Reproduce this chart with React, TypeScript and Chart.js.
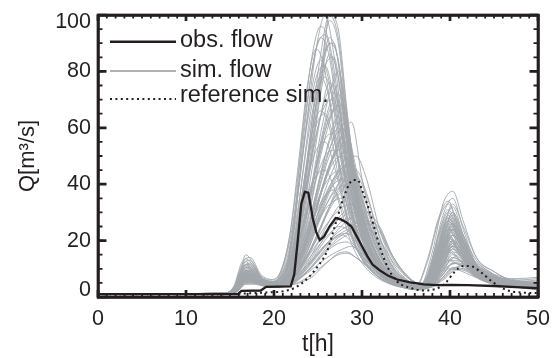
import { useEffect, useRef, useState } from "react";
import { Chart, registerables } from "chart.js";

Chart.register(...registerables);

// ---------- axes ----------
const xMin = 0;
const xMax = 50;
const yMin = 0;
const yMax = 100;
const xTickValues = [0, 10, 20, 30, 40, 50];
const xTickLabels = ["0", "10", "20", "30", "40", "50"];
const yTickValues = [0, 20, 40, 60, 80, 100];
const yTickLabels = ["0", "20", "40", "60", "80", "100"];
const xMinorStep = 1;
const yMinorStep = 5;
const xTitle = "t[h]";
const yTitle = "Q[m³/s]";
const legendLabels = ["obs. flow", "sim. flow", "reference sim."];

// ---------- observed flow ----------
const obsT = [0, 15.9, 16.3, 18.5, 19.1, 21.9, 22.3, 22.7, 23.1, 23.5, 23.9, 24.4, 24.8, 25.2, 25.7, 26.3, 27.0, 27.6, 28.2, 28.8, 29.4, 30, 30.6, 31.2, 32, 33, 34, 35.5, 37, 38.5, 40, 42, 45, 47.5, 50];
const obsQ = [1, 1, 2.2, 2.3, 3.6, 3.8, 8, 20, 33, 37.3, 37, 28, 23, 20.2, 21.5, 25, 28, 27.5, 26.5, 25, 21.5, 18, 14.5, 11.5, 9.5, 7.5, 6.2, 5.2, 4.5, 4.2, 4.3, 4.2, 3.9, 3.5, 3.1];

// ---------- reference simulation ----------
const refT = [0, 14, 17, 19, 21, 22.5, 24, 25, 26, 27, 28, 29, 29.5, 30, 31, 32, 33, 34, 35.5, 37, 38.5, 39.5, 40.5, 41.5, 42.5, 43.5, 45, 46.5, 48, 50];
const refQ = [1, 1, 1.3, 1.6, 2, 3.5, 7.2, 11, 16, 26, 36, 41.5, 41.5, 38, 29, 18, 10, 5.5, 3.2, 2.3, 3, 5, 8.8, 11, 10.8, 8.8, 5, 2.4, 1.6, 1.4];

// ---------- ensemble of simulated flows, time grid A ----------
const simTA = [0, 14.5, 15.8, 16.8, 17.8, 19, 20.3, 21.3, 22.3, 23.3, 24.3, 25.3, 26.3, 27.3, 28.3, 29.3, 30.5, 32, 33.5, 35, 36.5, 38, 39.2, 40.3, 41.5, 43, 45, 47.5, 50];
const simQA = [
  [1, 1.2, 3.5, 11.5, 8.5, 5, 4.5, 8.5, 25, 55, 80, 92, 85, 62, 40, 25, 15, 8.5, 5.5, 4, 3, 6.5, 18, 26, 18, 8.5, 5, 3.5, 3],
  [1.1, 1.3, 2.5, 7.5, 6.5, 4.5, 4, 7.5, 20, 45, 68, 78, 70, 50, 32, 20, 12, 7.5, 5, 3.5, 2.7, 5.5, 14, 22, 16, 8.5, 5, 3.7, 3.3],
  [0.9, 1.1, 4.5, 13.5, 10.5, 5.5, 5, 9.5, 28, 60, 85, 96, 90, 70, 45, 28, 16, 9.5, 6, 4, 3, 12, 22, 30, 22, 13, 8, 4.5, 3.5],
  [1, 1.2, 2, 5.5, 5.5, 4, 3.5, 6.5, 16, 38, 58, 66, 60, 43, 28, 18, 11, 7, 4.5, 3.3, 2.5, 4.5, 11, 18, 14, 7.5, 4.5, 3.5, 3],
  [1.1, 1.3, 3.7, 12.5, 9.5, 5.5, 5, 9, 26, 52, 74, 84, 76, 55, 36, 22, 13, 8, 5.1, 3.7, 2.7, 6, 16, 24, 17, 9, 5.1, 3.5, 2.5],
  [1, 1.2, 3, 9.5, 7.5, 4.5, 4, 6.5, 16, 36, 62, 86, 100, 92, 65, 40, 22, 11.5, 6.5, 4.3, 3.3, 8.5, 24, 32, 22, 10.5, 6, 4.5, 4],
  [0.9, 1.1, 3.5, 10.5, 8.5, 5, 4.5, 6.5, 15, 33, 58, 80, 98, 90, 62, 38, 21, 11.5, 6.5, 4, 3, 14, 29, 35, 24, 11.5, 6, 4.3, 3.7],
  [1.1, 1.3, 2.5, 6.5, 6.5, 4.5, 4, 6, 13, 28, 50, 72, 86, 78, 55, 34, 19, 10.5, 6, 4, 3.1, 6.5, 17, 24, 18, 9.5, 5.5, 4.1, 3.5],
  [0.9, 1.1, 4, 15, 11, 5.5, 5, 7.5, 17, 35, 58, 78, 92, 84, 60, 37, 20, 10.5, 6, 4, 3.5, 16, 33, 37.5, 27, 14, 9, 5, 3.8],
  [1, 1.2, 2.3, 6.5, 6, 4.3, 3.7, 5.5, 12, 26, 45, 64, 76, 68, 48, 30, 17, 9.5, 5.5, 3.7, 2.8, 5.5, 15, 22, 17, 9.5, 5.5, 4, 3.5],
  [1.1, 1.3, 3.3, 8.5, 7.5, 5, 4.5, 6.5, 14, 30, 52, 74, 100, 95, 66, 40, 22, 11.5, 6.5, 4.3, 3.2, 7.5, 21, 29, 21, 10.5, 6, 4.5, 3.9],
  [1, 1.2, 2.8, 8, 7, 4.7, 4.2, 6.3, 14, 31, 54, 76, 90, 84, 58, 36, 20, 10.5, 6, 4, 3, 7, 19, 27, 20, 10.5, 6, 4.7, 5.5],
  [1, 1.2, 2.5, 7.5, 6.5, 4.5, 4, 5.5, 11, 22, 38, 55, 68, 75, 60, 40, 24, 12.5, 7, 4.5, 3.3, 5.5, 14, 20, 16, 9.5, 6, 4.5, 4],
  [1.1, 1.3, 3.5, 9.5, 8, 5, 4.5, 6, 12, 24, 40, 58, 72, 80, 64, 42, 25, 13.5, 7.5, 4.7, 3.5, 7.5, 19, 26, 20, 10.5, 6.5, 4.7, 4.1],
  [0.9, 1.1, 2, 5.5, 5.5, 4, 3.5, 5, 9, 18, 30, 44, 55, 62, 50, 34, 20, 10.5, 6, 4, 3, 4.5, 11, 17, 14, 8.5, 5.5, 4.1, 3.7],
  [1, 1.2, 3, 8.5, 7.5, 4.7, 4.3, 5.5, 10, 20, 34, 50, 62, 70, 56, 38, 22, 11.5, 6.5, 4.3, 3.1, 6.5, 17, 25, 19, 10.5, 6, 4.5, 3.9],
  [1.1, 1.3, 2.5, 6.5, 6, 4.3, 3.9, 5, 9, 17, 28, 40, 50, 56, 46, 31, 18, 10, 5.8, 3.9, 2.9, 5.5, 13, 19, 15, 8.5, 5.5, 4.2, 3.7],
  [1, 1.2, 4, 11.5, 9, 5.5, 5, 6.5, 12, 23, 38, 54, 66, 72, 58, 38, 22, 11.5, 6.5, 4.3, 3.1, 8.5, 23, 33, 25, 14, 9, 5.2, 4.1],
  [1.1, 1.3, 2.7, 7.5, 6.5, 4.5, 4.1, 5.3, 9.5, 18, 29, 41, 52, 60, 49, 33, 19, 10.5, 6, 4, 3, 5, 12, 18, 15, 9, 5.7, 4.3, 3.8],
  [0.9, 1.1, 2.3, 6, 5.5, 4.1, 3.7, 4.7, 8, 15, 25, 36, 46, 52, 42, 28, 16, 9, 5.5, 3.7, 2.8, 4, 9, 14, 12, 7.5, 5, 3.9, 3.5],
  [1.1, 1.3, 3.1, 9, 7.5, 4.8, 4.3, 5.5, 10.5, 21, 35, 52, 64, 68, 54, 36, 21, 11.5, 6.5, 4.3, 3.2, 6, 15, 22, 17, 10, 6.3, 5.5, 6],
  [1, 1.2, 2.4, 6.5, 6, 4.3, 3.9, 5.1, 9, 17, 29, 43, 56, 64, 52, 35, 20, 11, 6.3, 4.2, 3.1, 7.5, 20, 28, 21, 11, 6.5, 5.1, 4.5],
  [1, 1.2, 2.5, 7, 6.5, 4.5, 4, 5, 8, 15, 25, 36, 46, 54, 58, 46, 30, 16.5, 9, 5.5, 3.7, 5.5, 14, 22, 18, 10.5, 6.5, 4.9, 4.3],
  [1.1, 1.3, 3.1, 8.5, 7.5, 4.8, 4.3, 5.3, 8.5, 16, 26, 37, 47, 53, 55, 44, 28, 15.5, 8.5, 5.3, 3.5, 6.5, 17, 26, 20, 11.5, 7, 5.1, 4.5],
  [1, 1.2, 2.1, 5.5, 5.5, 4.1, 3.7, 4.5, 7, 13, 21, 30, 38, 44, 47, 38, 25, 13.5, 7.5, 4.8, 3.3, 4.5, 11, 17, 14, 9, 6, 4.5, 4],
  [0.9, 1.1, 3.5, 10.5, 8.5, 5.3, 4.7, 5.7, 9, 16, 26, 37, 46, 52, 54, 43, 28, 15.5, 8.5, 5.2, 3.5, 7.5, 20, 30, 22, 11.5, 6.7, 4.9, 4.3],
  [1.1, 1.3, 2.7, 7.5, 6.5, 4.5, 4, 4.9, 7.5, 13, 20, 28, 35, 40, 43, 35, 23, 12.5, 7, 4.5, 3.2, 5, 12, 18, 15, 9.5, 6.1, 4.7, 4.2],
  [1, 1.2, 2.9, 8, 7, 4.7, 4.2, 5.1, 8, 14, 22, 31, 39, 45, 49, 40, 26, 14.5, 8, 5, 3.4, 6, 15, 23, 18, 10.5, 6.5, 4.8, 4.2],
  [1.1, 1.3, 2.6, 7, 6.5, 4.5, 4, 4.9, 7.8, 14, 23, 33, 42, 49, 52, 42, 27, 15, 8.3, 5.1, 3.5, 6.5, 16, 24, 19, 11, 6.9, 6, 6.5],
  [0.9, 1.1, 2.2, 5.7, 5.5, 4.1, 3.7, 4.5, 7, 12.5, 20, 29, 37, 43, 45, 37, 24, 13.5, 7.5, 4.7, 3.3, 5.3, 13, 20, 16, 10, 6.5, 5.3, 5.1],
  [1, 1.2, 2.3, 6.5, 6, 4.3, 3.9, 4.7, 6.5, 11, 17, 24, 32, 40, 47, 50, 42, 24, 12, 6.5, 4, 4.5, 10, 16, 14, 9.5, 6.5, 5.1, 4.5],
  [1.1, 1.3, 2.9, 8, 7, 4.7, 4.1, 4.9, 7, 12, 18, 25, 32, 38, 43, 45, 37, 21, 10.5, 6, 3.8, 5.5, 13, 20, 16, 10.5, 6.7, 5.2, 4.6],
  [1, 1.2, 1.9, 5, 5, 3.9, 3.5, 4.3, 6, 10, 15, 21, 27, 32, 35, 37, 31, 18.5, 10, 5.8, 3.7, 4, 8, 12, 11, 8.5, 6, 4.8, 4.3],
  [0.9, 1.1, 3.3, 9.5, 8, 5.1, 4.5, 5.3, 7.2, 12, 18, 25, 32, 37, 40, 41, 33, 19.5, 10.5, 6, 3.8, 6.5, 16, 24, 18, 11, 6.7, 5, 4.4],
  [1.1, 1.3, 2.5, 6.5, 6, 4.3, 3.9, 4.5, 6, 9.5, 14, 19, 24, 28, 31, 33, 28, 17.5, 9.5, 5.5, 3.6, 4.5, 9, 14, 12.5, 9, 6.3, 5, 4.5],
  [1, 1.2, 2.8, 7.5, 6.7, 4.6, 4.1, 4.8, 6.8, 11.5, 17.5, 24.5, 31, 36, 40, 43, 36, 21.5, 11, 6.3, 3.9, 5.1, 12, 18, 15, 10, 6.8, 6.5, 7],
  [1, 1.2, 2.1, 5.5, 5.5, 4.1, 3.7, 4.3, 5.5, 8.5, 12, 16, 20, 24, 27, 29, 30, 25, 14.5, 8, 4.7, 4.5, 7, 10, 11, 10.5, 7.5, 5.5, 4.8],
  [1.1, 1.3, 2.7, 7, 6.5, 4.5, 4, 4.5, 5.8, 8.8, 12.5, 16.5, 20, 23, 25, 26, 27, 24, 14.5, 8, 4.7, 4.3, 6.5, 9.5, 11.5, 11, 8, 6, 5.1],
  [1, 1.2, 2, 5.3, 5.3, 4, 3.6, 4.1, 5, 7.5, 10.5, 14, 17.5, 20, 22, 23.5, 24, 20, 12.5, 7.3, 4.5, 4.1, 6, 9, 10, 9.5, 7, 5.5, 4.9],
  [1.1, 1.4, 2.5, 6.5, 6, 4.3, 3.9, 4.5, 5.6, 8, 11, 14.5, 18, 21, 23, 24.5, 26, 23, 13.5, 7.5, 4.5, 4.7, 8, 12, 12.5, 10.5, 7.5, 5.7, 5.1],
  [1, 1.2, 2, 5, 5, 3.9, 3.5, 4.1, 5, 7.5, 10.5, 14, 17, 19, 19.5, 17, 13, 9.5, 6.5, 4.5, 3.3, 4, 8, 12, 11, 8, 5.5, 4.3, 3.8],
  [1.1, 1.3, 2.3, 6, 5.5, 4.1, 3.7, 4.3, 5.2, 7.8, 11, 15, 19, 22, 22.5, 19.5, 14.5, 10, 6.7, 4.6, 3.3, 4.5, 10, 15, 13, 9, 6, 4.5, 4],
  [0.9, 1.1, 1.8, 4.5, 4.5, 3.7, 3.4, 3.8, 4.5, 5.5, 7, 10, 13, 15.5, 16, 14, 11, 8, 5.5, 4, 3, 3.5, 7, 10, 9.5, 7.5, 5.3, 4.2, 3.7],
  [1, 1.2, 2.5, 6.5, 6, 4.3, 3.9, 4.7, 6, 9, 13, 18, 22, 25, 24, 20, 14, 9.5, 6.3, 4.3, 3.1, 5, 12, 19, 15, 9.5, 6, 4.5, 3.9],
  [1.1, 1.3, 2.1, 5.3, 5.1, 3.9, 3.5, 4, 4.6, 6, 8, 10.5, 13, 15, 15.5, 14, 11.5, 8.5, 6, 4.3, 3.1, 3.7, 7, 10.5, 10, 8, 5.5, 4.3, 3.7],
];

// ---------- ensemble of simulated flows, time grid B ----------
const simTB = [0, 14, 15.4, 16.3, 17.3, 18.5, 19.8, 20.8, 21.8, 22.8, 23.8, 24.8, 25.8, 26.8, 27.8, 28.8, 30, 31.5, 33, 34.5, 36, 37.5, 38.7, 39.8, 41, 42.5, 44.5, 47, 50];
const simQB = [
  [1, 1.1, 2.5, 8, 9, 6, 5, 9, 22, 48, 75, 88, 80, 58, 37, 23, 14, 8, 5, 3.6, 2.8, 6, 17, 25, 19, 9, 5, 3.6, 3],
  [1, 1.2, 2, 6, 8, 6.5, 5.5, 8, 18, 38, 64, 88, 100, 86, 60, 37, 21, 11, 6, 4, 3, 8, 22, 30, 22, 10, 5.5, 4, 3.5],
  [1.1, 1.3, 3, 10, 12, 7, 5.5, 7, 13, 25, 42, 58, 68, 70, 55, 37, 22, 12, 6.5, 4.2, 3.2, 7, 18, 27, 21, 10.5, 6, 4.4, 3.8],
  [0.9, 1, 1.8, 5, 6, 4.8, 4.2, 5.5, 10, 19, 32, 46, 56, 58, 46, 31, 18, 10, 5.8, 3.9, 2.9, 6, 16, 22, 17, 9, 5.5, 4.2, 3.6],
  [1, 1.2, 2.6, 7.5, 9, 6, 4.8, 5.5, 9, 15, 24, 33, 40, 44, 45, 37, 24, 13, 7, 4.5, 3.3, 7.5, 21, 29, 21, 10.5, 6.2, 4.6, 4],
  [1.1, 1.3, 2.2, 6, 7, 5.2, 4.4, 5, 7.5, 12, 18, 25, 31, 34, 35, 29, 20, 11.5, 6.5, 4.3, 3.2, 5, 13, 20, 16, 9, 5.8, 4.4, 3.9],
  [1, 1.2, 3.2, 11, 13, 7.5, 6, 9, 20, 40, 62, 78, 82, 70, 48, 30, 17, 9.5, 5.5, 3.8, 3.2, 14, 28, 34, 24, 13, 8.5, 4.5, 3.6],
  [0.9, 1.1, 1.6, 4.5, 5.5, 4.5, 3.9, 4.4, 6, 9, 13, 17, 21, 24, 27, 28, 23, 14, 8, 5, 3.4, 4.5, 8, 12, 15, 13, 8, 5, 4.1],
  [1, 1.2, 2.4, 7, 8.5, 5.8, 4.9, 6, 10, 19, 31, 42, 50, 52, 42, 28, 17, 9.5, 5.6, 3.8, 2.9, 5.5, 14, 21, 16, 9, 5.6, 4.3, 3.7],
  [1.1, 1.3, 2.9, 9, 10.5, 6.5, 5.2, 7.5, 15, 30, 48, 61, 65, 56, 40, 26, 15, 8.5, 5.2, 3.6, 2.8, 7, 19, 27, 20, 9.8, 5.7, 4.2, 3.6],
  [1, 1.2, 2, 5.5, 6.5, 5, 4.3, 5, 7.5, 12.5, 19, 26, 32, 37, 39.5, 40, 29, 16, 8.5, 5.2, 3.5, 6, 16, 24, 18, 10, 6.3, 4.8, 4.2],
  [0.9, 1.1, 1.7, 4.8, 5.8, 4.6, 4, 4.5, 5.8, 8, 11, 14.5, 18, 20.5, 22, 19.5, 14.5, 9.5, 6.3, 4.4, 3.2, 4, 8.5, 13, 11.5, 8, 5.5, 4.4, 3.9],
  [1, 1.2, 2.7, 8, 9.5, 6.2, 5, 6.5, 12, 24, 40, 57, 70, 75, 60, 40, 23, 12, 6.5, 4.2, 3.1, 6.5, 18, 26, 20, 10, 5.8, 4.3, 3.7],
  [1.1, 1.3, 3.6, 12, 14, 8, 6.2, 9.5, 22, 45, 70, 88, 93, 78, 54, 33, 18, 10, 5.8, 3.9, 2.9, 7.5, 20, 28, 21, 10, 5.6, 4.1, 3.5],
  [1, 1.2, 2.3, 6.5, 7.5, 5.4, 4.6, 5.3, 8, 13, 20, 28, 36, 42, 46, 48, 35, 19, 9.5, 5.6, 3.6, 5.5, 14, 21, 17, 10, 6.5, 5, 4.4],
  [0.9, 1.1, 2.1, 6, 7, 5, 4.3, 5.2, 8.5, 15, 25, 37, 48, 56, 60, 47, 29, 15, 8, 4.9, 3.4, 6.5, 17, 24, 22, 14, 9, 4.7, 4.1],
  [1.1, 1.3, 2.5, 7, 8, 5.6, 4.7, 5.2, 7, 10, 14, 18.5, 23, 26, 28.5, 30, 29.5, 21, 11.5, 6.5, 4, 4.8, 9, 13, 13, 10, 6.8, 5.3, 4.7],
  [1, 1.2, 2.8, 8.5, 10, 6.3, 5.1, 6.8, 13, 27, 47, 68, 82, 85, 66, 42, 23, 12, 6.5, 4.2, 3.1, 8, 22, 31, 23, 11, 6, 4.3, 3.7],
  [1, 1.2, 2, 5.5, 6.5, 4.9, 4.2, 4.9, 7.5, 12.5, 20, 28, 35, 40, 42, 34, 22, 12.5, 7, 4.5, 3.3, 5, 12, 18, 15, 9, 5.9, 4.6, 4.1],
  [1.1, 1.3, 3.3, 10, 11.5, 7, 5.5, 6.5, 11, 20, 33, 47, 59, 66, 68, 52, 31, 16, 8.5, 5.1, 3.5, 7, 19, 28, 21, 11, 6.5, 4.8, 4.2],
  [0.9, 1, 1.5, 4, 5, 4.2, 3.7, 4.1, 5, 6.5, 8.5, 11, 13.5, 15.5, 17, 18, 15.5, 11, 7, 4.7, 3.3, 3.8, 7, 10, 9.5, 7.5, 5.4, 4.4, 3.9],
  [1, 1.2, 2.6, 7.5, 9, 6, 4.9, 7, 14, 27, 42, 52, 55, 47, 34, 22, 13.5, 8, 5, 3.5, 2.7, 5.5, 15, 22, 16, 8.5, 5, 3.8, 3.2],
  [1.1, 1.3, 2.2, 6, 7.5, 5.4, 4.6, 5.5, 8.5, 14, 22, 30, 36, 38, 31, 21, 13.5, 8, 5.1, 3.6, 2.8, 5, 13, 19, 15, 8.5, 5.3, 4.1, 3.6],
  [1, 1.2, 2.4, 6.5, 7.5, 5.3, 4.5, 5.3, 8.5, 14, 22, 32, 42, 51, 58, 62, 42, 21, 10, 5.8, 3.7, 6, 15, 22, 17, 10, 6.4, 4.9, 4.3],
  [1, 1.2, 2, 5.5, 6.5, 5, 4.3, 4.8, 6, 8.5, 11.5, 15, 18.5, 21, 23, 24.5, 25.5, 26, 17, 9.5, 5.2, 5, 8, 11, 12, 10.5, 7.5, 5.8, 5.1],
  [1.1, 1.3, 3, 9.5, 11, 6.8, 5.4, 7.8, 16, 33, 55, 72, 78, 68, 48, 30, 17, 9.5, 5.5, 3.8, 2.9, 6.5, 17, 24, 18, 9, 5.2, 3.9, 3.3],
  [0.9, 1.1, 1.9, 5.3, 6.3, 4.8, 4.1, 4.9, 7.5, 13, 21, 31, 41, 48, 50, 40, 25, 13.5, 7.5, 4.7, 3.3, 5.5, 14, 20, 16, 9.5, 6, 4.6, 4],
  [1.1, 1.3, 2.4, 6.7, 7.8, 5.6, 4.7, 5.2, 7, 10.5, 15, 20, 25, 29, 32, 33, 26, 15.5, 8.5, 5.2, 3.5, 5, 11, 16, 13.5, 9, 6.2, 4.9, 4.4],
  [1, 1.2, 2.6, 8, 9.5, 6.2, 5, 6.6, 13, 28, 50, 72, 87, 90, 70, 44, 24, 12.5, 6.8, 4.4, 3.2, 13, 27, 33, 24, 11.5, 6.2, 4.4, 3.8],
  [1, 1.2, 2.2, 6.3, 7.5, 5.4, 4.6, 6.2, 12, 23, 36, 43, 45, 39, 29, 19, 12, 7.3, 4.8, 3.4, 2.6, 4.5, 11, 17, 13.5, 8, 4.9, 3.7, 3.2],
];

// ---------- styles ----------
const INK = "#231f20";
const SIM_COLOR = "rgb(163,167,171)";
const SIM_LEGEND_COLOR = "rgb(150,152,155)";
const FONT = '"Liberation Sans", Arial, Helvetica, sans-serif';

function drawFrame(chart: any) {
  const ctx = chart.ctx;
  const area = chart.chartArea;
  const left = area.left;
  const right = area.right;
  const top = area.top;
  const bottom = area.bottom;
  const xs = chart.scales.x;
  const ys = chart.scales.y;
  ctx.save();
  ctx.setTransform(1, 0, 0, 1, 0, 0);
  ctx.globalAlpha = 1;
  ctx.globalCompositeOperation = "source-over";
  ctx.setLineDash([]);
  ctx.strokeStyle = INK;
  ctx.lineWidth = 2.7;
  ctx.strokeRect(left, top, right - left, bottom - top);
  ctx.lineWidth = 1.8;
  ctx.beginPath();
  for (let v = xMin; v <= xMax + 1e-9; v += xMinorStep) {
    const px = xs.getPixelForValue(v);
    ctx.moveTo(px, bottom);
    ctx.lineTo(px, bottom - 4);
    ctx.moveTo(px, top);
    ctx.lineTo(px, top + 3.5);
  }
  for (let v = yMin; v <= yMax + 1e-9; v += yMinorStep) {
    const py = ys.getPixelForValue(v);
    ctx.moveTo(left, py);
    ctx.lineTo(left + 4.5, py);
    ctx.moveTo(right, py);
    ctx.lineTo(right - 4.5, py);
  }
  ctx.stroke();
  ctx.lineWidth = 2.7;
  ctx.beginPath();
  for (const v of xTickValues) {
    const px = xs.getPixelForValue(v);
    ctx.moveTo(px, bottom);
    ctx.lineTo(px, bottom - 7);
    ctx.moveTo(px, top);
    ctx.lineTo(px, top + 6);
  }
  for (const v of yTickValues) {
    const py = ys.getPixelForValue(v);
    ctx.moveTo(left, py);
    ctx.lineTo(left + 8.5, py);
    ctx.moveTo(right, py);
    ctx.lineTo(right - 8.5, py);
  }
  ctx.stroke();
  ctx.restore();
}

function drawLegend(chart: any) {
  const ctx = chart.ctx;
  const area = chart.chartArea;
  const items = [
    { dash: [] as number[], text: legendLabels[0], ly: 26.7, ty: 32.3, color: INK, width: 2.5 },
    { dash: [] as number[], text: legendLabels[1], ly: 56, ty: 62, color: SIM_LEGEND_COLOR, width: 1.6 },
    { dash: [2, 3.4], text: legendLabels[2], ly: 84, ty: 86.5, color: INK, width: 2 },
  ];
  const lx0 = area.left + 12;
  const lx1 = area.left + 78;
  for (const it of items) {
    ctx.save();
    const y = area.top + it.ly;
    ctx.beginPath();
    ctx.strokeStyle = it.color;
    ctx.lineWidth = it.width;
    ctx.setLineDash(it.dash);
    ctx.moveTo(lx0, y);
    ctx.lineTo(lx1, y);
    ctx.stroke();
    ctx.restore();
    ctx.save();
    ctx.font = "23.5px " + FONT;
    ctx.textAlign = "left";
    ctx.textBaseline = "alphabetic";
    ctx.fillStyle = INK;
    ctx.fillText(it.text, lx1 + 4, area.top + it.ty);
    ctx.restore();
  }
}

function alphaAt(chart: any, x: number, y: number) {
  try {
    return chart.ctx.getImageData(Math.round(x), Math.round(y), 1, 1).data[3];
  } catch (e) {
    return -1;
  }
}

export default function App() {
  const ref = useRef<HTMLCanvasElement | null>(null);
  const [msg, setMsg] = useState("");

  useEffect(() => {
    document.body.style.margin = "0";
    const canvas = ref.current;
    if (!canvas) return;
    const notes: string[] = [];

    const overlay = {
      id: "overlay",
      afterDatasetsDraw(chart: any) {
        drawLegend(chart);
      },
      afterDraw(chart: any) {
        const area = chart.chartArea;
        const midY = (area.top + area.bottom) / 2;
        drawFrame(chart);
        const a1 = alphaAt(chart, area.left, midY);
        if (a1 < 100) {
          // pop any drawing state (e.g. a clip) left on the context, then draw again
          for (let k = 0; k < 64; k++) chart.ctx.restore();
          drawFrame(chart);
          const a2 = alphaAt(chart, area.left, midY);
          notes.push("a1=" + a1 + " a2=" + a2);
        }
      },
    };

    const obsDataset = {
      label: legendLabels[0],
      data: obsT.map((t, i) => ({ x: t, y: obsQ[i] })),
      borderColor: INK,
      borderWidth: 2.3,
      pointRadius: 0,
      tension: 0,
      order: 0,
    };
    const refDataset = {
      label: legendLabels[2],
      data: refT.map((t, i) => ({ x: t, y: refQ[i] })),
      borderColor: INK,
      borderWidth: 2,
      borderDash: [2, 3.4],
      pointRadius: 0,
      cubicInterpolationMode: "monotone",
      order: 1,
    };
    const makeSim = (tArr: number[], rows: number[][]) =>
      rows.map((row) => ({
        label: legendLabels[1],
        data: tArr.map((t, i) => ({ x: t, y: row[i] })),
        borderColor: SIM_COLOR,
        borderWidth: 0.9,
        pointRadius: 0,
        cubicInterpolationMode: "monotone",
        order: 2,
      }));
    const simDatasets = [...makeSim(simTA, simQA), ...makeSim(simTB, simQB)];

    const chart = new Chart(canvas, {
      type: "line",
      data: { datasets: [obsDataset, refDataset, ...simDatasets] as any },
      options: {
        animation: false,
        responsive: false,
        events: [],
        layout: { padding: { left: 0, right: 18, top: 15, bottom: 0 } },
        plugins: { legend: { display: false }, tooltip: { enabled: false } },
        scales: {
          x: {
            type: "linear",
            min: xMin,
            max: xMax,
            grid: { display: false, drawTicks: false, tickLength: 0 },
            border: { display: true, width: 2.7, color: INK },
            afterBuildTicks: (s: any) => {
              s.ticks = xTickValues.map((v) => ({ value: v }));
            },
            afterFit: (s: any) => {
              s.height = 61;
              s.paddingLeft = 0;
              s.paddingRight = 0;
            },
            ticks: {
              autoSkip: false,
              maxRotation: 0,
              padding: 9,
              color: INK,
              font: { family: FONT, size: 21.5 },
              callback: (_v: any, i: number) => xTickLabels[i],
            },
            title: {
              display: true,
              text: xTitle,
              color: INK,
              font: { family: FONT, size: 23 },
              padding: { top: 0, bottom: 0 },
            },
          },
          x2: {
            type: "linear",
            position: "top",
            min: xMin,
            max: xMax,
            grid: { display: false, drawTicks: false, tickLength: 0 },
            border: { display: true, width: 2.7, color: INK },
            ticks: { display: false },
            afterFit: (s: any) => {
              s.height = 0;
              s.paddingLeft = 0;
              s.paddingRight = 0;
            },
          },
          y: {
            type: "linear",
            min: yMin,
            max: yMax,
            grid: { display: false, drawTicks: false, tickLength: 0 },
            border: { display: true, width: 2.7, color: INK },
            afterBuildTicks: (s: any) => {
              s.ticks = yTickValues.map((v) => ({ value: v }));
            },
            afterFit: (s: any) => {
              s.width = 98;
              s.paddingTop = 0;
              s.paddingBottom = 0;
            },
            ticks: {
              autoSkip: false,
              padding: 7,
              color: INK,
              font: { family: FONT, size: 21.5, lineHeight: "14.5px" },
              callback: (_v: any, i: number) => {
                const lab = yTickLabels[i];
                if (i === 0) return [lab, ""];
                if (i === yTickLabels.length - 1) return ["", lab];
                return lab;
              },
            },
            title: {
              display: true,
              text: yTitle,
              color: INK,
              font: { family: FONT, size: 22 },
              padding: { top: 15, bottom: 0 },
            },
          },
          y2: {
            type: "linear",
            position: "right",
            min: yMin,
            max: yMax,
            grid: { display: false, drawTicks: false, tickLength: 0 },
            border: { display: true, width: 2.7, color: INK },
            ticks: { display: false },
            afterFit: (s: any) => {
              s.width = 0;
              s.paddingTop = 0;
              s.paddingBottom = 0;
            },
          },
        },
      },
      plugins: [overlay],
    } as any);

    if (notes.length) setMsg(notes.join(" "));

    return () => chart.destroy();
  }, []);

  return (
    <div style={{ position: "relative", width: 556, height: 358 }}>
      <canvas
        ref={ref}
        width={556}
        height={358}
        style={{ display: "block", width: 556, height: 358 }}
      />
      {msg ? (
        <div style={{ position: "absolute", left: 380, top: 40, color: "red", fontSize: 10 }}>{msg}</div>
      ) : null}
    </div>
  );
}
